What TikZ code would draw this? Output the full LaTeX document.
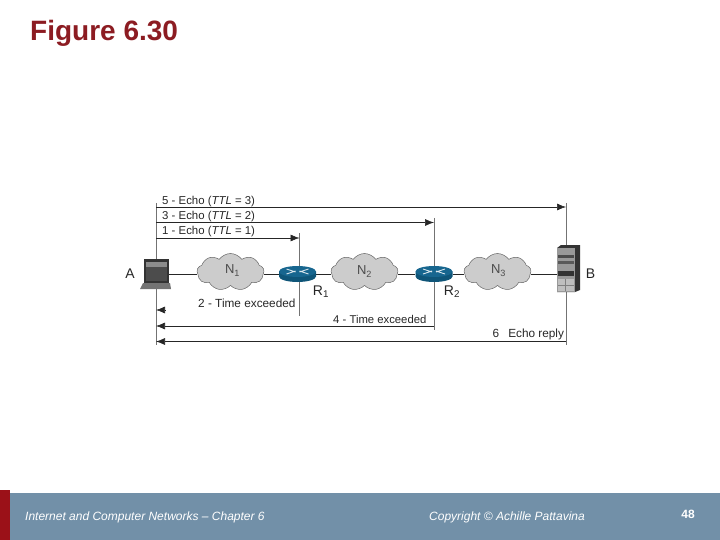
\documentclass[tikz,border=0pt]{standalone}
\usepackage{fontspec}
\setmainfont{Liberation Sans}
\usetikzlibrary{shapes.symbols,shapes.geometric,arrows.meta}
\definecolor{band}{HTML}{7290A8}
\definecolor{darkred}{HTML}{9B1118}
\definecolor{titlered}{HTML}{8C1C22}
\definecolor{routerblue}{HTML}{17668F}
\definecolor{routerdark}{HTML}{0F5578}
\tikzset{
  netcloud/.style={cloud,cloud puffs=9,cloud puff arc=110,aspect=1.8,draw=black!60,fill=black!20,line width=.5pt,
    minimum width=67pt,minimum height=37pt,inner sep=0pt},
  netlabel/.style={font=\fontsize{13}{13}\selectfont,text=black!70,inner sep=0pt},
  devlabel/.style={font=\fontsize{14}{14}\selectfont,text=black!85,inner sep=0pt},
  msg/.style={font=\fontsize{11.4}{11.4}\selectfont,text=black!85,inner sep=0pt,anchor=west},
  flow/.style={line width=.6pt,black!85,-{Latex[length=9pt,width=7pt]}},
  guide/.style={line width=.6pt,black!55},
  link/.style={line width=.7pt,black!85},
  routernode/.style={minimum width=37pt,minimum height=16pt,inner sep=0pt},
  foot/.style={font=\fontsize{12}{12}\selectfont\itshape,text=white,inner sep=0pt,anchor=west}
}
\newcommand{\routericon}[2]{%
  \fill[routerdark] (#1-18.5,#2-2.5) -- (#1-18.5,#2+2.5) arc[start angle=180,end angle=360,x radius=18.5pt,y radius=5.5pt] -- (#1+18.5,#2-2.5) -- cycle;
  \fill[routerblue] (#1,#2-2.5) ellipse[x radius=18.5pt,y radius=5.5pt];
  \draw[white!85!routerblue,line width=.8pt] (#1-11,#2-5) -- (#1-2,#2-2) (#1+2,#2-3) -- (#1+11,#2)
     (#1-11,#2) -- (#1-2,#2-3) (#1+2,#2-2) -- (#1+11,#2-5);
}
\begin{document}
\begin{tikzpicture}[x=1pt,y=-1pt]
\useasboundingbox (0,0) rectangle (720,540);
% footer
\fill[band] (0,493) rectangle (720,540);
\fill[darkred] (0,490) rectangle (10,540);
\node[font=\fontsize{28}{28}\selectfont\bfseries,text=titlered,inner sep=0pt,anchor=west] (title) at (30,33) {Figure 6.30};
\node[foot] (f1) at (25,517.5) {Internet and Computer Networks – Chapter 6};
\node[foot] (f2) at (429,517.5) {Copyright © Achille Pattavina};
\node[font=\fontsize{12}{12}\selectfont\bfseries,text=white,inner sep=0pt] (page) at (688,514) {48};
% guide ends
\coordinate (a1) at (156,203); \coordinate (a2) at (156,345);
\coordinate (r1t) at (299.5,233); \coordinate (r1b) at (299.5,316);
\coordinate (r2t) at (434,218); \coordinate (r2b) at (434,330);
\coordinate (b1) at (566,203); \coordinate (b2) at (566,345);
\draw[guide] (a1) -- (a2);
\draw[guide] (r1t) -- (r1b);
\draw[guide] (r2t) -- (r2b);
\draw[guide] (b1) -- (b2);
% flows
\coordinate (s5) at (156,207); \coordinate (e5) at (566,207);
\coordinate (s3) at (156,222.5); \coordinate (e3) at (434,222.5);
\coordinate (s1) at (156,238); \coordinate (e1) at (299.5,238);
\coordinate (s2) at (165,310); \coordinate (e2) at (156,310);
\coordinate (s4) at (434,326); \coordinate (e4) at (156,326);
\coordinate (s6) at (566,341.5); \coordinate (e6) at (156,341.5);
\draw[flow] (s5) -- (e5);
\draw[flow] (s3) -- (e3);
\draw[flow] (s1) -- (e1);
\draw[flow] (s2) -- (e2);
\draw[flow] (s4) -- (e4);
\draw[flow] (s6) -- (e6);
% devices
\node[netcloud] (N1) at (230.5,272) {};
\node[netcloud] (N2) at (364.5,272) {};
\node[netcloud] (N3) at (497.5,272) {};
\node[routernode] (R1) at (297.5,274) {};
\node[routernode] (R2) at (434,274) {};
\node[minimum width=25pt,minimum height=24pt,inner sep=0pt] (A) at (156.5,274) {};
\node[minimum width=18pt,minimum height=36pt,inner sep=0pt] (B) at (566,274) {};
\draw[link] (A.east) -- (N1.west |- A.east);
\draw[link] (R1.west) -- (N1.east |- R1.west);
\draw[link] (R1.east) -- (N2.west |- R1.east);
\draw[link] (R2.west) -- (N2.east |- R2.west);
\draw[link] (R2.east) -- (N3.west |- R2.east);
\draw[link] (B.west) -- (N3.east |- B.west);
\routericon{297.5}{274}
\routericon{434}{274}
% laptop
\fill[black!80] (144,259) rectangle (169,283);
\fill[black!45] (146,262) rectangle (167,267);
\fill[black!70] (146,267) rectangle (167,281);
\fill[black!55] (143,283) -- (170,283) -- (171,289) -- (140,289) -- cycle;
% server
\fill[black!80] (557,248) -- (561,245) -- (580,245) -- (580,290) -- (575,292) -- (557,292) -- cycle;
\fill[black!40] (557,248) rectangle (575,292);
\fill[black!70] (558,255) rectangle (574,258);
\fill[black!65] (558,261) rectangle (574,264);
\fill[black!80] (558,271) rectangle (574,276);
\fill[black!25] (558,279) rectangle (574,291);
\draw[black!50,line width=.3pt] (565,279) -- (565,291) (558,285) -- (574,285);
% labels
\node[devlabel] (la) at (130,274) {A};
\node[devlabel] (lb) at (590.5,273.5) {B};
\node[devlabel] (lr1) at (321,291.5) {R$_{\mathrm{1}}$};
\node[devlabel] (lr2) at (452,291.5) {R$_{\mathrm{2}}$};
\node[netlabel] (ln1) at (232.5,270.5) {N$_{\mathrm{1}}$};
\node[netlabel] (ln2) at (364.5,271.5) {N$_{\mathrm{2}}$};
\node[netlabel] (ln3) at (498.5,270.5) {N$_{\mathrm{3}}$};
\node[msg] (m5) at (162,201.5) {5 - Echo (\textit{TTL} = 3)};
\node[msg] (m3) at (162,216.5) {3 - Echo (\textit{TTL} = 2)};
\node[msg] (m1) at (162,232) {1 - Echo (\textit{TTL} = 1)};
\node[msg,font=\fontsize{11.8}{11.8}\selectfont] (m2) at (198,303.5) {2 - Time exceeded};
\node[msg,font=\fontsize{11.3}{11.3}\selectfont] (m4) at (333,319) {4 - Time exceeded};
\node[msg,font=\fontsize{11.8}{11.8}\selectfont] (m6) at (492.5,334) {6\hspace{9pt}Echo reply};
\end{tikzpicture}
\end{document}
